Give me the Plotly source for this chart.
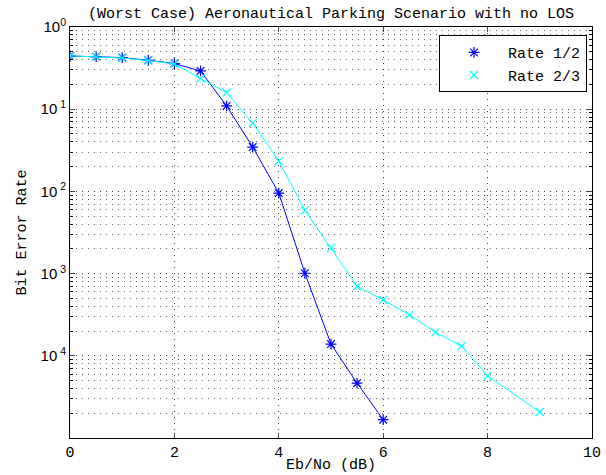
import plotly.graph_objects as go

# Data
ebno_r12 = [0, 0.5, 1, 1.5, 2, 2.5, 3, 3.5, 4, 4.5, 5, 5.5, 6]
ber_r12 = [0.444, 0.436, 0.425, 0.394, 0.359, 0.292, 0.1097, 0.0346, 0.00955,
           0.00101, 1.39e-4, 4.65e-5, 1.67e-5]
ebno_r23 = [0, 0.5, 1, 1.5, 2, 2.5, 3, 3.5, 4, 4.5, 5, 5.5, 6, 6.5, 7, 7.5, 8, 9]
ber_r23 = [0.446, 0.436, 0.42, 0.39, 0.355, 0.236, 0.1595, 0.0676, 0.0233,
           0.00588, 0.00205, 7.0e-4, 4.79e-4, 3.15e-4, 1.93e-4, 1.31e-4, 5.7e-5, 2.07e-5]
series_names = ["Rate 1/2", "Rate 2/3"]
x_ticks = [0, 2, 4, 6, 8, 10]
y_tickvals = [1, 0.1, 0.01, 0.001, 1e-4]
y_ticktext = ["10<sup>0</sup>", "10<sup>\u00a01</sup>", "10<sup>\u00a02</sup>",
              "10<sup>\u00a03</sup>", "10<sup>\u00a04</sup>"]

FONT = "Liberation Mono, Courier New, monospace"
c1 = "#0000ff"
c2 = "#00ffff"

fig = go.Figure()
fig.add_trace(go.Scatter(x=ebno_r12, y=ber_r12, mode="lines+markers",
                         line=dict(color=c1, width=1),
                         marker=dict(symbol="asterisk-open", size=9, color=c1, line=dict(width=1.2, color=c1)),
                         showlegend=False))
fig.add_trace(go.Scatter(x=ebno_r23, y=ber_r23, mode="lines+markers",
                         line=dict(color=c2, width=1),
                         marker=dict(symbol="x-thin-open", size=8, color=c2, line=dict(width=1.2, color=c2)),
                         showlegend=False))
# legend entries (marker only)
fig.add_trace(go.Scatter(x=[None], y=[None], mode="markers", name=series_names[0],
                         marker=dict(symbol="asterisk-open", size=9, color=c1, line=dict(width=1.2, color=c1))))
fig.add_trace(go.Scatter(x=[None], y=[None], mode="markers", name=series_names[1],
                         marker=dict(symbol="x-thin-open", size=8, color=c2, line=dict(width=1.2, color=c2))))

minor_y = [m * 10 ** e for e in range(-5, 0) for m in range(2, 10)]
GRIDDASH = "1px,5px"

fig.update_layout(
    width=606, height=475,
    margin=dict(l=70, r=14, t=27, b=37, autoexpand=False),
    paper_bgcolor="white", plot_bgcolor="white",
    font=dict(family=FONT, size=14, color="black"),
    title=dict(text="(Worst Case) Aeronautical Parking Scenario with no LOS",
               x=0.5, xref="paper", xanchor="center",
               y=1 - 13 / 475, yref="container", yanchor="middle",
               font=dict(family=FONT, size=15, color="black")),
    xaxis=dict(range=[0, 10], tickvals=x_ticks, ticks="inside", ticklen=5,
               showline=True, linecolor="black", linewidth=1, mirror="allticks",
               showgrid=True, gridcolor="#444444", griddash=GRIDDASH, gridwidth=1,
               zeroline=False, automargin=False,
               tickfont=dict(family=FONT, size=15)),
    yaxis=dict(type="log", range=[-5, 0], tickvals=y_tickvals, ticktext=y_ticktext,
               ticks="inside", ticklen=5,
               showline=True, linecolor="black", linewidth=1, mirror="allticks",
               showgrid=True, gridcolor="#444444", griddash=GRIDDASH, gridwidth=1,
               zeroline=False, automargin=False,
               minor=dict(tickvals=minor_y, ticks="inside", ticklen=3, tickcolor="black",
                          showgrid=True, gridcolor="#666666", griddash=GRIDDASH, gridwidth=1),
               title=dict(text="Bit Error Rate", standoff=10, font=dict(family=FONT, size=15)),
               tickfont=dict(family="Liberation Sans, Arial, sans-serif", size=15)),
    legend=dict(x=0.707, y=0.98, xanchor="left", yanchor="top",
                bgcolor="white", bordercolor="black", borderwidth=1,
                font=dict(family=FONT, size=15), tracegroupgap=0, itemwidth=58),
    annotations=[dict(text="Eb/No (dB)", x=0.5, xref="paper", xanchor="center",
                      y=1 - 466 / 475, yref="paper" if False else "paper", yanchor="middle",
                      showarrow=False, font=dict(family=FONT, size=15))],
)
# place x-axis title annotation relative to the container
fig.layout.annotations[0].update(yref="paper", y=-(466 - 438) / (438 - 27))

fig.write_html("out.html")
